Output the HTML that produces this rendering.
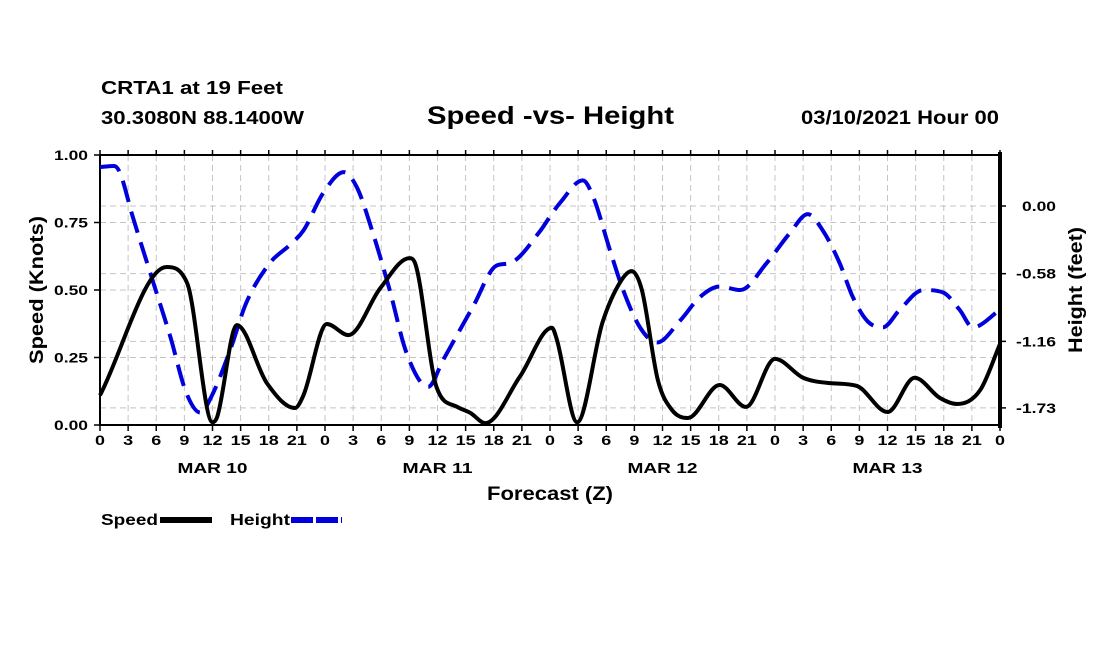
<!DOCTYPE html>
<html><head><meta charset="utf-8"><style>
body{margin:0;background:#fff}
svg{display:block;font-family:"Liberation Sans",sans-serif;font-weight:bold}
</style></head><body>
<svg id="chart" width="1100" height="650">
<text x="101" y="94" font-size="18" textLength="182" lengthAdjust="spacingAndGlyphs">CRTA1 at 19 Feet</text>
<text x="101" y="124" font-size="18" textLength="203" lengthAdjust="spacingAndGlyphs">30.3080N 88.1400W</text>
<text x="427" y="124" font-size="25" textLength="247" lengthAdjust="spacingAndGlyphs">Speed -vs- Height</text>
<text x="801" y="124" font-size="19" textLength="198" lengthAdjust="spacingAndGlyphs">03/10/2021 Hour 00</text>
<g id="grid"></g>
<g id="axes"></g>
<path id="heightLine" fill="none" stroke="#0000dd" stroke-width="4" stroke-dasharray="22 10"/>
<path id="speedLine" fill="none" stroke="#000" stroke-width="4" stroke-linejoin="round"/>
<text transform="translate(43,290) rotate(-90)" font-size="19" text-anchor="middle" textLength="148" lengthAdjust="spacingAndGlyphs">Speed (Knots)</text>
<text transform="translate(1082,290) rotate(-90)" font-size="19" text-anchor="middle" textLength="126" lengthAdjust="spacingAndGlyphs">Height (feet)</text>
<text x="487" y="500" font-size="19" textLength="126" lengthAdjust="spacingAndGlyphs">Forecast (Z)</text>
<text x="101" y="525" font-size="16" textLength="57" lengthAdjust="spacingAndGlyphs">Speed</text>
<line x1="160" y1="520" x2="212" y2="520" stroke="#000" stroke-width="6"/>
<text x="230" y="525" font-size="16" textLength="60" lengthAdjust="spacingAndGlyphs">Height</text>
<line x1="291" y1="520" x2="342" y2="520" stroke="#0000dd" stroke-width="6" stroke-dasharray="22 3"/>
</svg>
<script>
const speedHours=[0,7.1,9.3,12,12.5,14.6,17.8,20.8,21.7,24.2,26.5,29.9,33,33.6,35.9,38.1,39.5,41.1,44.8,48.2,48.7,50.9,53.6,55.5,56.7,57.8,59.5,61,62.7,66.1,68.9,72,75,77.9,80.7,84,86.9,89.6,91.4,93.9,96];
const speedValues=[0.11,0.585,0.525,0.01,0.03,0.37,0.155,0.063,0.11,0.374,0.333,0.507,0.618,0.6,0.14,0.067,0.045,0.007,0.18,0.36,0.32,0.01,0.38,0.53,0.57,0.5,0.167,0.056,0.026,0.148,0.067,0.245,0.175,0.155,0.145,0.048,0.175,0.1,0.078,0.13,0.3];
const heightHours=[0,1.5,2.1,3.5,5.7,7.5,9.2,10.7,11.9,13.9,15.6,18.1,20.3,21.7,23.8,26,27.4,29.1,30.9,32.7,35,36.6,39.8,42.3,43.7,46.9,48,49.1,51.5,52.6,54.4,55.8,57.6,59.4,61.9,64,66.1,68.3,71.1,73.6,75.5,77.1,78.9,80.3,81.9,83.5,85.3,87.8,89.9,91.7,93.1,96];
const heightValues=[0.334,0.343,0.29,-0.094,-0.66,-1.12,-1.6,-1.77,-1.63,-1.23,-0.83,-0.49,-0.33,-0.21,0.11,0.29,0.16,-0.23,-0.72,-1.26,-1.55,-1.32,-0.86,-0.51,-0.49,-0.22,-0.09,0.03,0.22,0.08,-0.38,-0.72,-1.04,-1.17,-0.98,-0.78,-0.69,-0.72,-0.49,-0.23,-0.07,-0.21,-0.49,-0.78,-0.99,-1.04,-0.89,-0.72,-0.74,-0.89,-1.04,-0.89];
const speedTicks=[0,0.25,0.5,0.75,1.0];
const heightTicks=[0,-0.58,-1.16,-1.73];
const dayLabels=["MAR 10","MAR 11","MAR 12","MAR 13"];
const X0=100,X1=1000,Y0=155,Y1=425;
const xs=h=>X0+(h/96)*(X1-X0);
const ys=v=>Y1-v*(Y1-Y0);
const yh=v=>206-v*116.7;
const NS='http://www.w3.org/2000/svg';
function mk(parent,tag,attrs){const e=document.createElementNS(NS,tag);for(const k in attrs)e.setAttribute(k,attrs[k]);document.getElementById(parent).appendChild(e);return e;}
function tlen(s){let w=0;for(const c of s)w+=(c==='.'?4:c==='-'?6:10);return w;}
function monotone(px,py){const n=px.length,d=[],m=[];for(let i=0;i<n-1;i++)d.push((py[i+1]-py[i])/(px[i+1]-px[i]));
m[0]=d[0];m[n-1]=d[n-2];for(let i=1;i<n-1;i++){m[i]=(d[i-1]*d[i]<=0)?0:(d[i-1]+d[i])/2;}
for(let i=0;i<n-1;i++){if(d[i]===0){m[i]=0;m[i+1]=0;continue;}const a=m[i]/d[i],b=m[i+1]/d[i],s=a*a+b*b;if(s>9){const t=3/Math.sqrt(s);m[i]=t*a*d[i];m[i+1]=t*b*d[i];}}
let p='M'+px[0]+','+py[0];for(let i=0;i<n-1;i++){const h=(px[i+1]-px[i])/3;p+=' C'+(px[i]+h)+','+(py[i]+m[i]*h)+' '+(px[i+1]-h)+','+(py[i+1]-m[i+1]*h)+' '+px[i+1]+','+py[i+1];}return p;}
for(let h=3;h<96;h+=3){const l=mk('grid','line',{x1:xs(h),x2:xs(h),y1:Y0,y2:Y1,stroke:'#c4c4c4','stroke-dasharray':'6 4'});

}
speedTicks.forEach(v=>{const l=mk('grid','line',{x1:X0,x2:X1,y1:ys(v),y2:ys(v),stroke:'#c4c4c4','stroke-dasharray':'6 4'});


const s=v.toFixed(2);const t=mk('axes','text',{x:X0-12,y:ys(v)+5,'font-size':14,'text-anchor':'end',textLength:tlen(s),lengthAdjust:'spacingAndGlyphs'});t.textContent=s;


const tk=mk('axes','line',{x1:X0-6,x2:X0,y1:ys(v),y2:ys(v),stroke:'#000','stroke-width':1.5});

});
heightTicks.forEach(v=>{const l=mk('grid','line',{x1:X0,x2:X1,y1:yh(v),y2:yh(v),stroke:'#c4c4c4','stroke-dasharray':'6 4'});


const s=v.toFixed(2);const t=mk('axes','text',{x:1056,y:yh(v)+5,'font-size':14,'text-anchor':'end',textLength:tlen(s),lengthAdjust:'spacingAndGlyphs'});t.textContent=s;


const tk=mk('axes','line',{x1:X1,x2:X1+6,y1:yh(v),y2:yh(v),stroke:'#000','stroke-width':1.5});

});
for(let h=0;h<=96;h+=3){const s=String(h%24);const t=mk('axes','text',{x:xs(h),y:Y1+20,'font-size':14,'text-anchor':'middle',textLength:tlen(s),lengthAdjust:'spacingAndGlyphs'});t.textContent=s;


const tk=mk('axes','line',{x1:xs(h),x2:xs(h),y1:Y1,y2:Y1+6,stroke:'#000','stroke-width':1.5});


const tt=mk('axes','line',{x1:xs(h),x2:xs(h),y1:Y0-5,y2:Y0,stroke:'#000','stroke-width':1.5});

}
dayLabels.forEach((d,i)=>{const t=mk('axes','text',{x:xs(12+24*i),y:Y1+48,'font-size':15,'text-anchor':'middle',textLength:70,lengthAdjust:'spacingAndGlyphs'});t.textContent=d;

});
const fr=mk('axes','rect',{x:X0,y:Y0,width:X1-X0,height:Y1-Y0,fill:'none',stroke:'#000','stroke-width':2});


const ra=mk('axes','line',{x1:X1,x2:X1,y1:Y0-3,y2:Y1+3,stroke:'#000','stroke-width':4});


document.getElementById('speedLine').setAttribute('d',monotone(speedHours.map(xs),speedValues.map(ys)));
document.getElementById('heightLine').setAttribute('d',monotone(heightHours.map(xs),heightValues.map(yh)));
</script>
</body></html>
